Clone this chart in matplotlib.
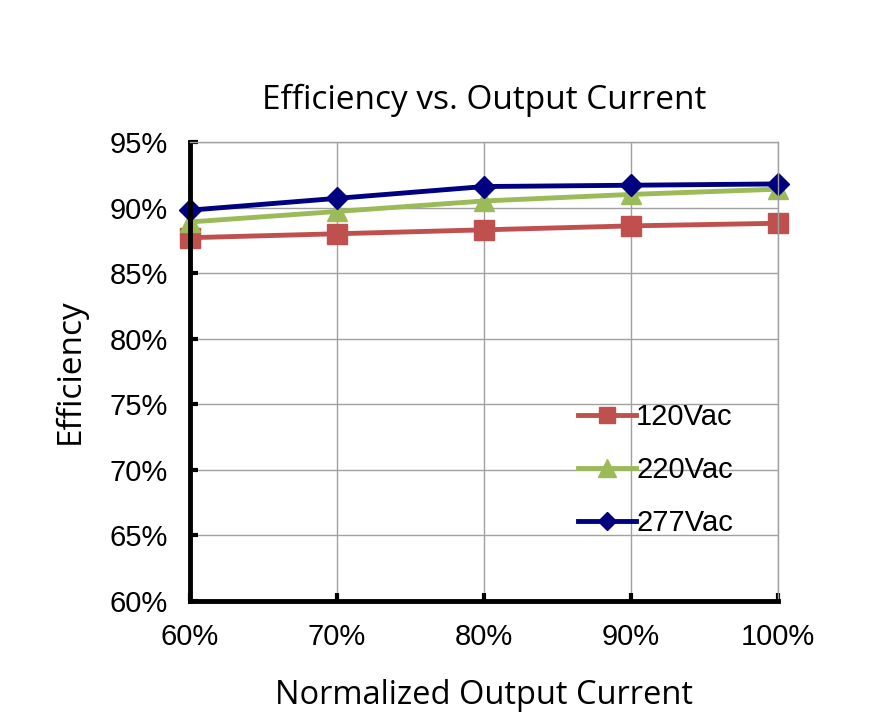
import matplotlib
matplotlib.use("Agg")
import matplotlib.pyplot as plt
from matplotlib.ticker import FuncFormatter

# data
current = [60, 70, 80, 90, 100]          # normalized output current, %
eff_120 = [87.7, 88.0, 88.3, 88.6, 88.8]
eff_220 = [88.9, 89.7, 90.5, 91.0, 91.4]
eff_277 = [89.8, 90.7, 91.6, 91.7, 91.8]

plt.rcParams['font.family'] = ['Liberation Sans', 'DejaVu Sans']

fig = plt.figure(figsize=(8.84, 7.28), dpi=100)
ax = fig.add_axes([0.215, 0.1745, 0.665, 0.6305])

ax.plot(current, eff_120, color='#C0504D', lw=3.5, marker='s', ms=14, label='120Vac', clip_on=False)
ax.plot(current, eff_220, color='#9BBB59', lw=3.5, marker='^', ms=15, label='220Vac', clip_on=False)
ax.plot(current, eff_277, color='#000080', lw=3.5, marker='D', ms=11, label='277Vac', clip_on=False)

ax.set_xlim(60, 100)
ax.set_ylim(60, 95)
ax.set_xticks(current)
ax.set_yticks(range(60, 96, 5))
ax.xaxis.set_major_formatter(FuncFormatter(lambda v, p: f"{v:.0f}%"))
ax.yaxis.set_major_formatter(FuncFormatter(lambda v, p: f"{v:.0f}%"))
ax.tick_params(direction='in', length=6, width=3, labelsize=21, pad=16)
ax.grid(True, color='#A0A0A0', lw=1)
ax.set_axisbelow(True)

for s in ['left', 'bottom']:
    ax.spines[s].set_linewidth(3.5)
    ax.spines[s].set_color('black')
for s in ['top', 'right']:
    ax.spines[s].set_linewidth(1)
    ax.spines[s].set_color('#A0A0A0')

ax.set_title("Efficiency vs. Output Current", fontsize=24, family=['Open Sans', 'DejaVu Sans'], pad=24)
ax.set_xlabel("Normalized Output Current", fontsize=23.5, family=['Open Sans', 'DejaVu Sans'], labelpad=20)
ax.set_ylabel("Efficiency", fontsize=24, family=['Open Sans', 'DejaVu Sans'], labelpad=16)

ax.legend(loc='upper left', bbox_to_anchor=(0.615, 0.488), frameon=False, fontsize=21,
          labelspacing=0.85, handlelength=2.0, handletextpad=0.0, markerscale=0.85)

fig.savefig("out.png", dpi=100)
